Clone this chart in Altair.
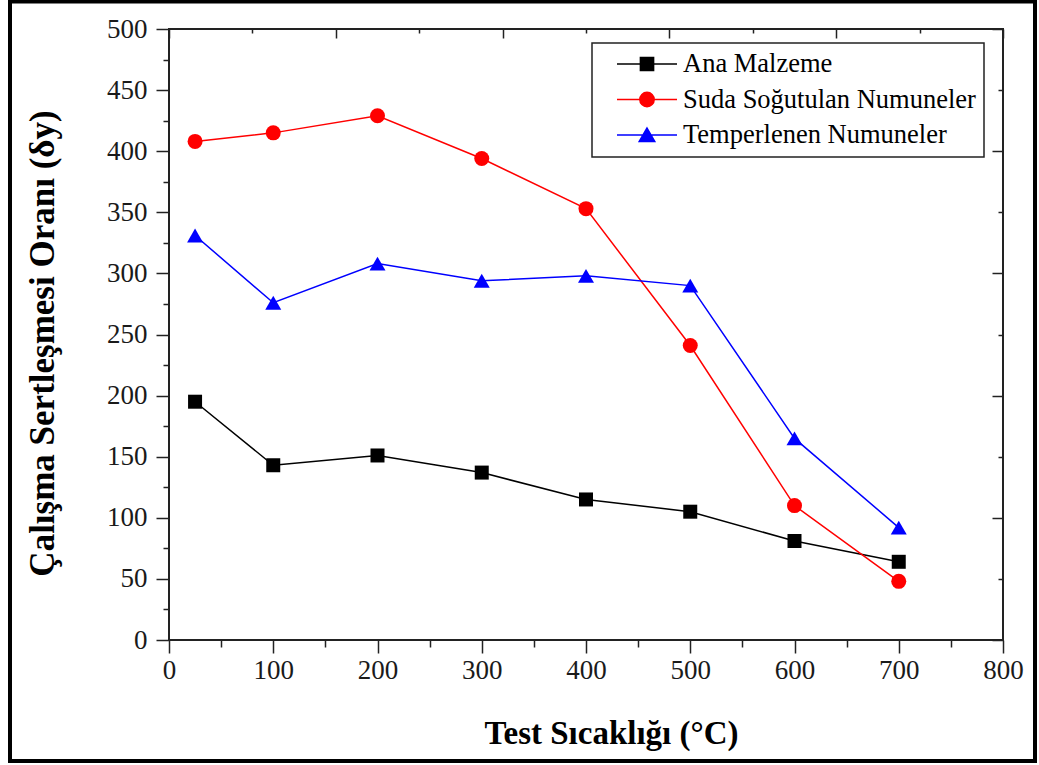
import altair as alt
import pandas as pd

# ---- data ----
temps = [25, 100, 200, 300, 400, 500, 600, 700]
ana_malzeme = [195, 143, 151, 137, 115, 105, 81, 64]
suda_sogutulan = [408, 415, 429, 394, 353, 241, 110, 48]
temperlenen = [331, 276, 308, 294, 298, 290, 165, 92]

series_names = ["Ana Malzeme", "Suda Soğutulan Numuneler", "Temperlenen Numuneler"]
series_colors = ["#000000", "#ff0000", "#0000ff"]
marker_shapes = ["square", "circle", "triangle-up"]
marker_sizes = [196, 225, 256]
# legend symbols: line segment + marker (unit coordinates)
legend_paths = [
    "M-1,0H1M-0.22,-0.22H0.22V0.22H-0.22Z",
    "M-1,0H1M-0.24,0A0.24,0.24 0 1,0 0.24,0A0.24,0.24 0 1,0 -0.24,0Z",
    "M-1,0H1M0,-0.23L0.26,0.22L-0.26,0.22Z",
]

x_major = list(range(0, 801, 100))
x_minor = list(range(50, 800, 100))
y_major = list(range(0, 501, 50))
y_minor = list(range(25, 500, 50))
top_long = list(range(0, 801, 160))
top_short = list(range(80, 800, 160))
right_long = list(range(0, 501, 100))
right_short = list(range(50, 500, 100))

x_title = "Test Sıcaklığı (°C)"
y_title = "Çalışma Sertleşmesi Oranı (δy)"

rows = []
for name, vals in zip(series_names, [ana_malzeme, suda_sogutulan, temperlenen]):
    for t, v in zip(temps, vals):
        rows.append({"series": name, "temp": t, "val": v})
df = pd.DataFrame(rows)

FONT = "Liberation Serif"
W, H = 834, 611
xs = alt.Scale(domain=[0, 800], nice=False, zero=False)
ys = alt.Scale(domain=[0, 500], nice=False, zero=False)


def tick_axis(values, size, orient, offset=0):
    return alt.Axis(values=values, orient=orient, offset=offset, tickSize=size,
                    tickWidth=1.5, tickColor="#222", labels=False, domain=False,
                    grid=False, title=None)


x_main = alt.Axis(values=x_major, orient="bottom", tickSize=13, tickWidth=1.5,
                  tickColor="#222", domain=False, grid=False, labelFont=FONT,
                  labelFontSize=27, labelColor="#1a1a1a", labelPadding=4,
                  labelFlush=False, labelOverlap=False,
                  title=x_title, titleFont=FONT, titleFontSize=33,
                  titleFontWeight="bold", titleColor="#000", titleX=442,
                  titleY=103, titleAlign="center", titleBaseline="alphabetic",
                  titleAngle=0)
y_main = alt.Axis(values=y_major, orient="left", tickSize=13, tickWidth=1.5,
                  tickColor="#222", domain=False, grid=False, labelFont=FONT,
                  labelFontSize=27, labelColor="#1a1a1a", labelPadding=9,
                  labelOverlap=False,
                  title=y_title, titleFont=FONT, titleFontSize=35,
                  titleFontWeight="bold", titleColor="#000", titleX=-116,
                  titleY=314, titleAlign="center", titleBaseline="alphabetic",
                  titleAngle=270)

axes_pairs = [
    (x_main, y_main),
    (tick_axis(x_minor, 7, "bottom"), tick_axis(y_minor, 6, "left")),
    (tick_axis(top_long, 9, "bottom", -H), tick_axis(right_long, 11, "left", -W)),
    (tick_axis(top_short, 4, "bottom", -H), tick_axis(right_short, 5, "left", -W)),
]

layers = []
for i, name in enumerate(series_names):
    xa, ya = axes_pairs[i]
    layers.append(
        alt.Chart(df).transform_filter(alt.datum.series == name)
        .mark_line(color=series_colors[i], strokeWidth=1.5)
        .encode(x=alt.X("temp:Q", scale=xs, axis=xa),
                y=alt.Y("val:Q", scale=ys, axis=ya))
    )
for i, name in enumerate(series_names):
    if i == 0:
        xa, ya = axes_pairs[3]
    else:
        xa, ya = None, None
    layers.append(
        alt.Chart(df).transform_filter(alt.datum.series == name)
        .mark_point(filled=True, opacity=1, shape=marker_shapes[i],
                    size=marker_sizes[i], color=series_colors[i])
        .encode(x=alt.X("temp:Q", scale=xs, axis=xa),
                y=alt.Y("val:Q", scale=ys, axis=ya))
    )

leg = alt.Legend(title=None, orient="none", legendX=423, legendY=14,
                 direction="vertical", symbolSize=3600, symbolStrokeWidth=1.5,
                 clipHeight=26, rowPadding=8.5, padding=8, symbolOffset=16,
                 labelOffset=5, labelFont=FONT, labelFontSize=26.5,
                 labelColor="#000", labelLimit=500, strokeColor="#222",
                 fillColor="white")
legend_layer = (
    alt.Chart(df).transform_filter("false")
    .mark_point(filled=True, opacity=1, strokeWidth=1.5)
    .encode(
        x=alt.X("temp:Q", scale=xs, axis=None),
        y=alt.Y("val:Q", scale=ys, axis=None),
        shape=alt.Shape("series:N", scale=alt.Scale(domain=series_names, range=legend_paths), legend=leg),
        fill=alt.Fill("series:N", scale=alt.Scale(domain=series_names, range=series_colors), legend=leg),
        stroke=alt.Stroke("series:N", scale=alt.Scale(domain=series_names, range=series_colors), legend=leg),
    )
)
layers.append(legend_layer)

frame = (
    alt.Chart(pd.DataFrame({"a": [0]}))
    .mark_rect(fillOpacity=0, stroke="black", strokeWidth=4)
    .encode(x=alt.value(-159), x2=alt.value(866), y=alt.value(-27.5), y2=alt.value(732))
)
layers.append(frame)

chart = (
    alt.layer(*layers)
    .resolve_axis(x="independent", y="independent")
    .properties(width=W, height=H,
                padding={"left": 169, "top": 29, "right": 36, "bottom": 125},
                autosize=alt.AutoSizeParams(type="none"), background="white")
    .configure_view(stroke="#222", strokeWidth=2)
    .configure_legend(strokeWidth=1.5)
)

chart.save("out.html", embed_options={"renderer": "svg", "actions": False})
